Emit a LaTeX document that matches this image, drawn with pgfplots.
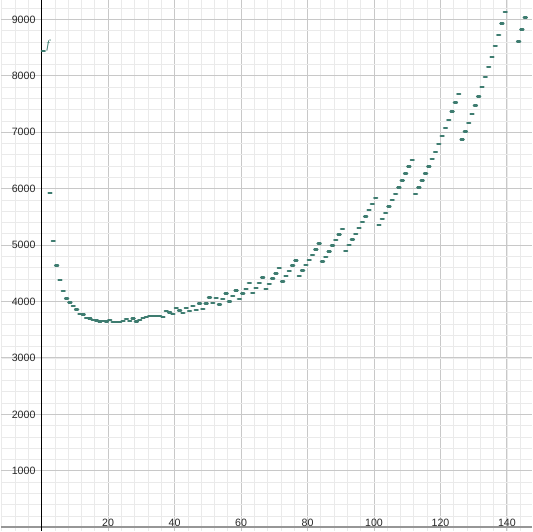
\documentclass[border=0pt]{standalone}
\usepackage{pgfplots}
\pgfplotsset{compat=1.18}
\usepackage{fontspec}
\setmainfont{Liberation Sans}
\newfontfamily\serifit{Liberation Serif}
\definecolor{pt}{RGB}{62,124,112}
\definecolor{majg}{RGB}{200,200,200}
\definecolor{ming}{RGB}{234,234,234}
\definecolor{lbl}{RGB}{40,40,40}
\begin{document}
\begin{tikzpicture}
\begin{axis}[
  scale only axis, width=399.75pt, height=399pt,
  xmin=-12.3, xmax=147.6, ymin=-65, ymax=9334,
  axis lines=middle,
  x axis line style={-, draw={rgb,255:red,150;green,150;blue,150}, line width=1.2pt},
  y axis line style={-, draw=black, line width=0.6pt},
  xtick={20,40,...,140}, ytick={1000,2000,...,9000},
  minor xtick={-12,-8,...,148}, minor ytick={0,200,...,9400},
  grid=both,
  major grid style={draw=majg, line width=0.75pt},
  minor grid style={draw=ming, line width=0.6pt},
  major tick length=0pt, minor tick length=0pt,
  tick label style={font=\fontsize{8}{9}\selectfont, text=lbl},
  /pgf/number format/assume math mode=true,
  /pgf/number format/1000 sep={},
  xticklabel style={anchor=south, inner sep=0.6pt},
  yticklabel style={anchor=east, inner sep=0pt, xshift=-4.5pt},
  clip=true,
]
\addplot[only marks, mark=-, mark size=1.15pt, mark options={draw=pt, line width=1.8pt, line cap=round}] coordinates {
(0.5,8440) (2.5,5924) (3.5,5070) (4.5,4635) (5.5,4376) (6.5,4182) (7.5,4053) (8.5,3982) (9.5,3918)
(10.5,3859) (11.5,3776) (12.5,3770) (13.5,3711) (14.5,3700) (15.5,3676) (16.5,3665) (17.5,3647)
(18.5,3652) (19.5,3648) (20.5,3675) (21.5,3641) (22.5,3641) (23.5,3641) (24.5,3653) (25.5,3690)
(26.5,3653) (27.5,3702) (28.5,3648) (29.5,3677) (30.5,3706) (31.5,3724) (32.5,3741) (33.5,3747)
(34.5,3747) (35.5,3741) (36.5,3724) (37.5,3827) (38.5,3806) (39.5,3775) (40.5,3880) (41.5,3840)
(42.5,3792) (43.5,3886) (44.5,3827) (45.5,3920) (46.5,3850) (47.5,3962) (48.5,3865) (49.5,3965)
(50.5,4071) (51.5,3971) (52.5,4059) (53.5,3948) (54.5,4042) (55.5,4142) (56.5,4001) (57.5,4100)
(58.5,4195) (59.5,4042) (60.5,4142) (61.5,4224) (62.5,4324) (63.5,4148) (64.5,4236) (65.5,4324)
(66.5,4424) (67.5,4224) (68.5,4312) (69.5,4409) (70.5,4498) (71.5,4592) (72.5,4354) (73.5,4449)
(74.5,4542) (75.5,4636) (76.5,4730) (77.5,4457) (78.5,4553) (79.5,4642) (80.5,4736) (81.5,4829)
(82.5,4923) (83.5,5029) (84.5,4706) (85.5,4794) (86.5,4888) (87.5,4994) (88.5,5085) (89.5,5188)
(90.5,5288) (91.5,4900) (92.5,5000) (93.5,5100) (94.5,5200) (95.5,5300) (96.5,5406) (97.5,5506)
(98.5,5618) (99.5,5724) (100.5,5836) (101.5,5359) (102.5,5465) (103.5,5571) (104.5,5683)
(105.5,5794) (106.5,5906) (107.5,6023) (108.5,6141) (109.5,6265) (110.5,6389) (111.5,6512)
(112.5,5906) (113.5,6023) (114.5,6141) (115.5,6270) (116.5,6394) (117.5,6524) (118.5,6653)
(119.5,6794) (120.5,6935) (121.5,7073) (122.5,7220) (123.5,7368) (124.5,7523) (125.5,7682)
(126.5,6868) (127.5,7012) (128.5,7162) (129.5,7318) (130.5,7473) (131.5,7635) (132.5,7805)
(133.5,7976) (134.5,8158) (135.5,8334) (136.5,8529) (137.5,8723) (138.5,8923) (139.5,9129)
(140.5,9340) (141.5,9555) (142.5,9775) (143.5,8606) (144.5,8818) (145.5,9035)
};
\node[text=pt, font=\serifit\itshape\fontsize{9}{10}\selectfont] at (axis cs:1.95,8530) {f};
\end{axis}
\end{tikzpicture}
\end{document}
